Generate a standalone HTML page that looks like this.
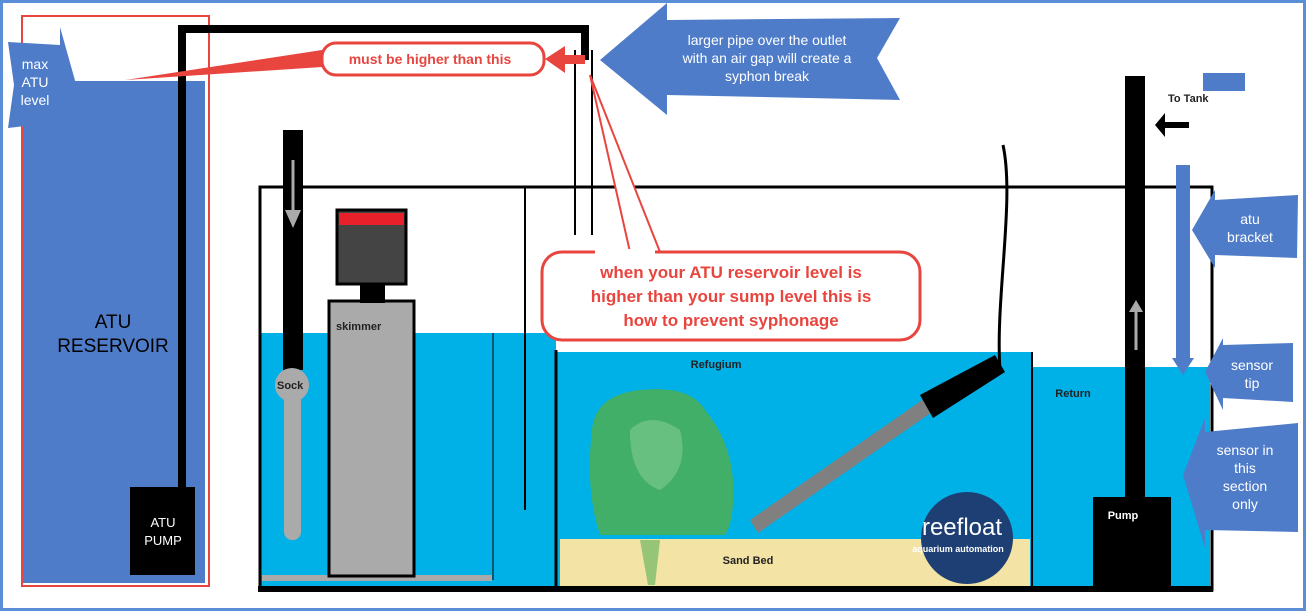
<!DOCTYPE html>
<html><head><meta charset="utf-8"><style>
body{margin:0;width:1306px;height:613px;overflow:hidden;background:#fff}
svg{display:block}
text{font-family:"Liberation Sans",sans-serif}
</style></head><body>
<svg width="1306" height="613" viewBox="0 0 1306 613" xmlns="http://www.w3.org/2000/svg">
<rect x="1.5" y="1.5" width="1303" height="608" fill="#fff" stroke="#5a8fd8" stroke-width="3"/>
<!-- ATU reservoir -->
<rect x="22" y="81" width="183" height="502" fill="#4e7cc9"/>
<rect x="22" y="16" width="187" height="570" fill="none" stroke="#e8453f" stroke-width="2"/>
<text x="113" y="328" font-size="19" fill="#000" text-anchor="middle">ATU</text>
<text x="113" y="352" font-size="19" fill="#000" text-anchor="middle">RESERVOIR</text>
<rect x="130" y="487" width="65" height="88" fill="#000"/>
<text x="163" y="527" font-size="13" fill="#fff" text-anchor="middle">ATU</text>
<text x="163" y="545" font-size="13" fill="#fff" text-anchor="middle">PUMP</text>
<!-- pipe -->
<path d="M182 487 V29 H585 V60" fill="none" stroke="#000" stroke-width="8"/>
<line x1="575" y1="50" x2="575" y2="235" stroke="#000" stroke-width="2"/>
<line x1="592" y1="50" x2="592" y2="235" stroke="#000" stroke-width="2"/>
<!-- water -->
<rect x="261" y="333" width="232" height="254" fill="#00b1e8"/>
<rect x="493" y="333" width="63" height="254" fill="#00b1e8"/>
<rect x="556" y="352" width="476" height="235" fill="#00b1e8"/>
<rect x="560" y="539" width="470" height="47" fill="#f3e3a4"/>
<rect x="1032" y="367" width="178" height="220" fill="#00b1e8"/>
<rect x="262" y="575" width="230" height="6" fill="#aaa"/>
<!-- tank lines -->
<path d="M260 187 H1212 V590 H260 Z" fill="none" stroke="#000" stroke-width="3"/>
<rect x="258" y="586" width="955" height="6" fill="#000"/>
<line x1="525" y1="187" x2="525" y2="510" stroke="#000" stroke-width="2"/>
<line x1="556" y1="350" x2="556" y2="588" stroke="#000" stroke-width="3"/>
<line x1="1032" y1="352" x2="1032" y2="588" stroke="#000" stroke-width="2"/>
<line x1="493" y1="333" x2="493" y2="580" stroke="#000" stroke-width="1"/>
<!-- sock -->
<rect x="283" y="130" width="20" height="240" fill="#000"/>
<line x1="293" y1="160" x2="293" y2="210" stroke="#aaa" stroke-width="3"/>
<path d="M285 210 L301 210 L293 228 Z" fill="#aaa"/>
<rect x="284" y="385" width="17" height="155" rx="8" fill="#aaa"/>
<ellipse cx="292" cy="385" rx="17" ry="17" fill="#aaa"/>
<text x="277" y="389" font-size="11" font-weight="bold" fill="#222">Sock</text>
<!-- skimmer -->
<rect x="329" y="301" width="85" height="275" fill="#aaa" stroke="#000" stroke-width="3"/>
<rect x="360" y="283" width="25" height="20" fill="#000"/>
<rect x="337" y="210" width="69" height="74" fill="#444" stroke="#000" stroke-width="3"/>
<rect x="339" y="213" width="65" height="12" fill="#e8202a"/>
<text x="336" y="330" font-size="11" font-weight="bold" fill="#222">skimmer</text>
<!-- refugium -->
<text x="716" y="368" font-size="11" font-weight="bold" fill="#222" text-anchor="middle">Refugium</text>
<path d="M592 430 Q595 395 640 390 Q690 385 705 410 Q730 440 733 480 Q735 520 725 535 L600 535 Q585 490 592 430Z" fill="#4caf50" opacity="0.85"/>
<path d="M630 430 Q650 410 680 430 Q690 470 660 490 Q630 480 630 430Z" fill="#8fd19a" opacity="0.5"/>
<path d="M640 540 L660 540 L655 585 L648 585Z" fill="#3aa84a" opacity="0.5"/>
<text x="748" y="564" font-size="11" font-weight="bold" fill="#222" text-anchor="middle">Sand Bed</text>
<path d="M750 520 L925 398 L935 410 L758 533Z" fill="#808080"/>
<path d="M920 395 L995 355 L1005 372 L933 418Z" fill="#000"/>
<path d="M1000 370 C995 300 1015 200 1003 145" fill="none" stroke="#000" stroke-width="3"/>
<circle cx="967" cy="538" r="46" fill="#1e3f73"/>
<text x="962" y="535" font-size="24" fill="#fff" text-anchor="middle">reefloat</text>
<text x="958" y="552" font-size="9" font-weight="bold" fill="#fff" text-anchor="middle" font-family="Liberation Serif">aquarium automation</text>
<!-- return -->
<text x="1073" y="397" font-size="11" font-weight="bold" fill="#222" text-anchor="middle">Return</text>
<rect x="1125" y="76" width="20" height="425" fill="#000"/>
<line x1="1136" y1="310" x2="1136" y2="350" stroke="#aaa" stroke-width="3"/>
<path d="M1129 312 L1143 312 L1136 300Z" fill="#aaa"/>
<rect x="1093" y="497" width="78" height="90" fill="#000"/>
<text x="1123" y="519" font-size="11" font-weight="bold" fill="#fff" text-anchor="middle">Pump</text>
<text x="1168" y="102" font-size="11" font-weight="bold" fill="#222">To Tank</text>
<rect x="1203" y="73" width="42" height="18" fill="#4e7cc9"/>
<path d="M1155 125 L1165 113 L1165 122 L1189 122 L1189 128 L1165 128 L1165 137Z" fill="#000"/>
<rect x="1176" y="165" width="14" height="195" fill="#4e7cc9"/>
<path d="M1172 358 L1194 358 L1183 375Z" fill="#4e7cc9"/>
<!-- red callouts -->
<path d="M125 80 L322 50 L322 67 Z" fill="#e8453f"/>
<rect x="322" y="43" width="222" height="32" rx="14" fill="#fff" stroke="#e8453f" stroke-width="3"/>
<text x="430" y="64" font-size="14" font-weight="bold" fill="#e8453f" text-anchor="middle">must be higher than this</text>
<path d="M545 59 L565 46 L565 55 L585 55 L585 64 L565 64 L565 73Z" fill="#e8453f"/>
<path d="M590 75 L630 252 L660 252 Z" fill="#fff" stroke="#e8453f" stroke-width="2"/>
<rect x="542" y="252" width="378" height="88" rx="20" fill="#fff" stroke="#e8453f" stroke-width="3"/>
<rect x="595" y="249" width="60" height="6" fill="#fff"/>
<text x="731" y="278" font-size="17" font-weight="bold" fill="#e8453f" text-anchor="middle">when your ATU reservoir level is</text>
<text x="731" y="302" font-size="17" font-weight="bold" fill="#e8453f" text-anchor="middle">higher than your sump level this is</text>
<text x="731" y="326" font-size="17" font-weight="bold" fill="#e8453f" text-anchor="middle">how to prevent syphonage</text>
<!-- blue arrow callouts -->
<path d="M8 42 L60 45 L60 27 L76 84 L60 145 L60 122 L8 128 L14 85 Z" fill="#4e7cc9"/>
<text x="35" y="69" font-size="14" fill="#fff" text-anchor="middle">max</text>
<text x="35" y="87" font-size="14" fill="#fff" text-anchor="middle">ATU</text>
<text x="35" y="105" font-size="14" fill="#fff" text-anchor="middle">level</text>
<path d="M600 60 L667 3 L667 20 L900 18 L877 58 L900 100 L667 95 L667 115 Z" fill="#4e7cc9"/>
<text x="767" y="45" font-size="14" fill="#fff" text-anchor="middle">larger pipe over the outlet</text>
<text x="767" y="63" font-size="14" fill="#fff" text-anchor="middle">with an air gap will create a</text>
<text x="767" y="81" font-size="14" fill="#fff" text-anchor="middle">syphon break</text>
<path d="M1192 230 L1215 190 L1215 200 L1298 195 L1297 258 L1215 255 L1215 268 Z" fill="#4e7cc9"/>
<text x="1250" y="224" font-size="14" fill="#fff" text-anchor="middle">atu</text>
<text x="1250" y="242" font-size="14" fill="#fff" text-anchor="middle">bracket</text>
<path d="M1205 372 L1223 338 L1223 345 L1293 343 L1293 402 L1223 398 L1223 410 Z" fill="#4e7cc9"/>
<text x="1252" y="370" font-size="14" fill="#fff" text-anchor="middle">sensor</text>
<text x="1252" y="388" font-size="14" fill="#fff" text-anchor="middle">tip</text>
<path d="M1183 475 L1205 418 L1205 432 L1298 423 L1298 532 L1205 530 L1205 548 Z" fill="#4e7cc9"/>
<text x="1245" y="455" font-size="14" fill="#fff" text-anchor="middle">sensor in</text>
<text x="1245" y="473" font-size="14" fill="#fff" text-anchor="middle">this</text>
<text x="1245" y="491" font-size="14" fill="#fff" text-anchor="middle">section</text>
<text x="1245" y="509" font-size="14" fill="#fff" text-anchor="middle">only</text>
</svg>
</body></html>
